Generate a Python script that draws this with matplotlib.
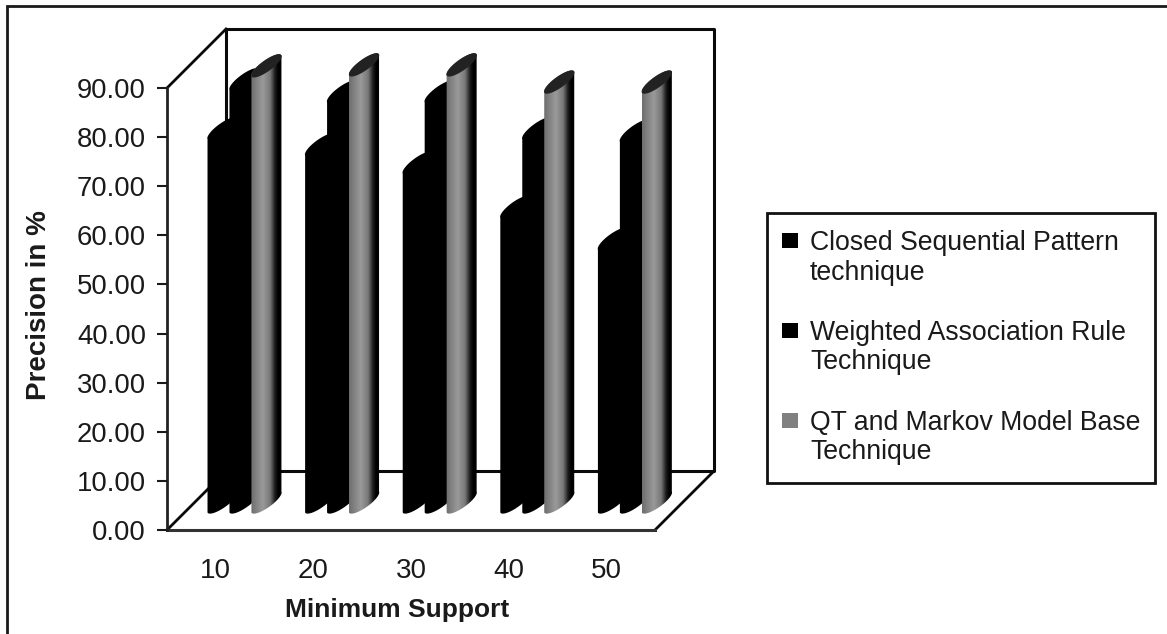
import numpy as np
import matplotlib
matplotlib.use("Agg")
import matplotlib.pyplot as plt
from matplotlib.patches import Polygon, Rectangle
from matplotlib.colors import LinearSegmentedColormap
from matplotlib.transforms import offset_copy

categories = ["10", "20", "30", "40", "50"]
closed_sequential = [76.0, 72.7, 69.0, 60.0, 53.5]
weighted_association = [86.0, 83.5, 83.5, 76.0, 75.5]
qt_markov = [88.8, 89.0, 89.0, 85.5, 85.5]
series_names = ["Closed Sequential Pattern\ntechnique", "Weighted Association Rule\nTechnique",
                "QT and Markov Model Base\nTechnique"]
yticks = [0, 10, 20, 30, 40, 50, 60, 70, 80, 90]

W, H = 1167, 634
plt.rcParams["font.family"] = ["Liberation Sans", "DejaVu Sans"]
fig = plt.figure(figsize=(W / 100, H / 100), dpi=100)

# outer frame
fig.add_artist(Rectangle((7.3 / W, -0.02), (W + 40) / W, 1.02 - 6.3 / H, transform=fig.transFigure,
                         fill=False, ec="#1a1a1a", lw=2.0))

L, R, T, B = 167, 655, 88, 530
ax = fig.add_axes([L / W, 1 - B / H, (R - L) / W, (B - T) / H])
ax.set_xlim(-0.5, 4.5)
ax.set_ylim(0, 90)
for s in ax.spines.values():
    s.set_visible(False)
ax.patch.set_visible(False)

DX, DY = 59, 59
off = offset_copy(ax.transData, fig, x=DX, y=DY, units="dots")
lk = dict(color="#0a0a0a", clip_on=False, solid_capstyle="projecting")
# back wall
ax.plot([-0.5, -0.5, 4.5, 4.5, -0.5], [0, 90, 90, 0, 0], transform=off, lw=2.2, zorder=1, **lk)
# side wall and floor edges
for xa, ya in [(-0.5, 0), (-0.5, 90), (4.5, 0)]:
    x0, y0 = ax.transData.transform((xa, ya))
    a = ax.transData.inverted().transform((x0 + DX, y0 + DY))
    ax.plot([xa, a[0]], [ya, a[1]], lw=2.0, zorder=1.2, **lk)
ax.plot([-0.5, 4.5], [0, 0], lw=2.2, color="#333333", clip_on=False, zorder=1.5)
ax.plot([-0.5, -0.5], [0, 90], lw=2.0, color="#222222", clip_on=False, zorder=1.5)

# cylinders
BASE = 18
CW = 31
base_tr = offset_copy(ax.transData, fig, x=0, y=BASE, units="dots")
grad = LinearSegmentedColormap.from_list(
    "g", [(0, "#6e6e6e"), (0.38, "#9a9a9a"), (0.62, "#787878"), (0.78, "#1c1c1c"), (0.88, "#000000"), (1, "#000000")])


def outline(xc, val):
    x0, y0 = base_tr.transform((xc, val))
    xb, yb = base_tr.transform((xc, 0))
    u = np.array([CW / 2 - .5, 10.5])
    v = np.array([2.5, -5.0])
    t = np.linspace(0, 2 * np.pi, 80)
    top = np.column_stack([x0 + CW / 2 + u[0] * np.cos(t) + v[0] * np.sin(t),
                           y0 + 10 + u[1] * np.cos(t) + v[1] * np.sin(t)])
    t1 = np.linspace(np.pi, 0, 50)
    tu = np.column_stack([x0 + CW / 2 + u[0] * np.cos(t1) - v[0] * np.sin(t1),
                          y0 + 10 + u[1] * np.cos(t1) - v[1] * np.sin(t1)])
    t2 = t1[::-1]
    tl = np.column_stack([xb + CW / 2 + u[0] * np.cos(t2) + v[0] * np.sin(t2),
                          yb + 10 + u[1] * np.cos(t2) + v[1] * np.sin(t2)])
    return np.vstack([tu, tl]), top


inv = ax.transData.inverted()
for i, cat in enumerate(categories):
    for j, vals in enumerate([closed_sequential, weighted_association, qt_markov]):
        xc = i - 0.09 + j * 0.225
        body, top = outline(xc, vals[i])
        z = 3 + j * 0.1
        body_d = inv.transform(body)
        top_d = inv.transform(top)
        if j < 2:
            ax.add_patch(Polygon(body_d, closed=True, fc="black", ec="none", zorder=z, clip_on=False))
        else:
            poly = Polygon(body_d, closed=True, fc="none", ec="none", zorder=z, clip_on=False)
            ax.add_patch(poly)
            xr = [body_d[:, 0].min(), body_d[:, 0].max()]
            yr = [body_d[:, 1].min(), body_d[:, 1].max()]
            im = ax.imshow(np.linspace(0, 1, 128)[None, :], extent=[xr[0], xr[1], yr[0], yr[1]], cmap=grad,
                           vmin=0, vmax=1, aspect="auto", zorder=z)
            im.set_clip_box(fig.bbox)
            im.set_clip_path(poly)
            ax.add_patch(Polygon(top_d, closed=True, fc="#222222", ec="none", zorder=z + 0.05, clip_on=False))
ax.set_xlim(-0.5, 4.5)
ax.set_ylim(0, 90)

ax.set_xticks(range(5), categories)
ax.set_yticks(yticks, [f"{v:.2f}" for v in yticks])
ax.tick_params(axis="x", length=0, labelsize=20, pad=20, colors="#1a1a1a")
ax.tick_params(axis="y", length=7.2, width=1.5, labelsize=19.8, pad=8, colors="#1a1a1a")
ax.set_xlabel("Minimum Support", fontsize=19, fontweight="bold", color="#1a1a1a", labelpad=10)
ax.xaxis.label.set_position(((397 - L) / (R - L), 0))
fig.text(39.5 / W, 1 - 305 / H, "Precision in %", rotation=90, fontsize=20, fontweight="bold",
         color="#1a1a1a", ha="center", va="center")

# legend
fig.add_artist(Rectangle((767 / W, 1 - 483 / H), 388 / W, 270 / H, transform=fig.transFigure,
                         fc="white", ec="#111111", lw=2.0))
cols = ["#000000", "#000000", "#808080"]
for name, c, yk, yt in zip(series_names, cols, [240.5, 330.5, 420.5], [258, 347.5, 437.5]):
    fig.add_artist(Rectangle((782 / W, 1 - (yk + 7.5) / H), 16 / W, 15 / H, transform=fig.transFigure,
                             fc=c, ec="none"))
    fig.text(810 / W, 1 - yt / H, name, fontsize=19.2, color="#1a1a1a", ha="left", va="center", linespacing=1.15)

fig.savefig("out.png", dpi=100)
